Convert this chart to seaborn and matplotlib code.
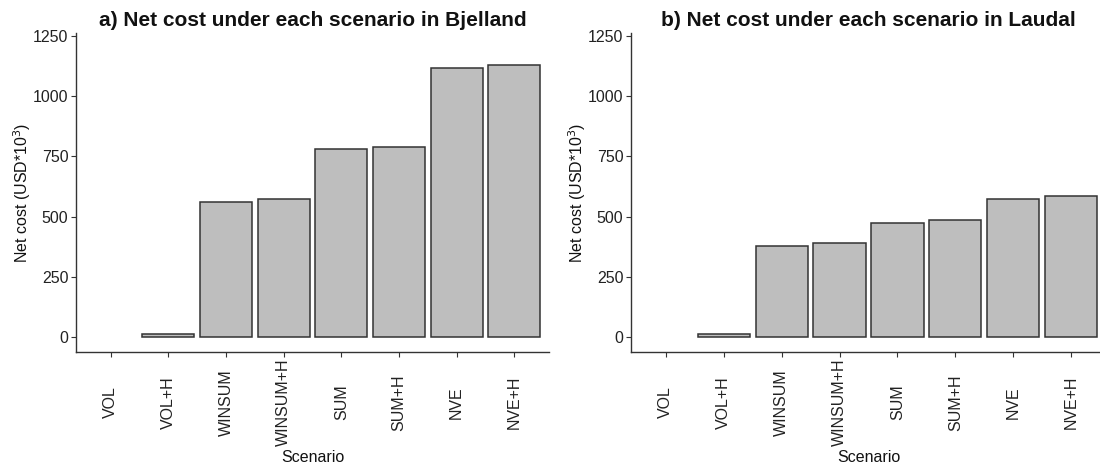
import numpy as np
import pandas as pd
import matplotlib
matplotlib.use("Agg")
import matplotlib.pyplot as plt
import seaborn as sns

# Scenario order and net cost (USD x 10^3) for each site
scenarios = ["VOL", "VOL+H", "WINSUM", "WINSUM+H", "SUM", "SUM+H", "NVE", "NVE+H"]
cost_bjelland = [0, 12, 561, 571, 779, 789, 1119, 1131]
cost_laudal = [0, 12, 377, 392, 474, 486, 571, 586]
titles = ["a) Net cost under each scenario in Bjelland",
          "b) Net cost under each scenario in Laudal"]
y_ticks = [0, 250, 500, 750, 1000, 1250]

sns.set_theme(style="ticks")
plt.rcParams["font.family"] = ["Liberation Sans", "DejaVu Sans"]

fig = plt.figure(figsize=(11, 4.68), dpi=100)
axes_pos = [
    [76 / 1100, 116.3 / 468, 473 / 1100, 318.4 / 468],
    [631 / 1100, 116.3 / 468, 475 / 1100, 318.4 / 468],
]

for pos, values, title in zip(axes_pos, [cost_bjelland, cost_laudal], titles):
    ax = fig.add_axes(pos)
    df = pd.DataFrame({"Scenario": scenarios, "cost": values})
    sns.barplot(data=df, x="Scenario", y="cost", order=scenarios,
                color="#BEBEBE", saturation=1, edgecolor="#333333",
                linewidth=1.1, width=0.9, ax=ax)
    # zero-valued scenarios have no bar at all
    for p in ax.patches:
        if p.get_height() == 0:
            p.set_visible(False)
    ax.set_xlim(-0.6, len(scenarios) - 0.4)
    ax.set_ylim(-62, 1262)
    ax.set_yticks(y_ticks)
    ax.set_yticklabels([str(t) for t in y_ticks])
    ax.tick_params(axis="both", length=3.5, width=0.8, color="#333333",
                   labelsize=11.5, labelcolor="#222222", pad=2)
    # vertical scenario names, centred on a common line below the axis
    ax.tick_params(axis="x", pad=33)
    for lab in ax.get_xticklabels():
        lab.set_rotation(90)
        lab.set_verticalalignment("center")
        lab.set_horizontalalignment("center")
    for s in ["top", "right"]:
        ax.spines[s].set_visible(False)
    for s in ["left", "bottom"]:
        ax.spines[s].set_color("#333333")
        ax.spines[s].set_linewidth(1.0)
    ax.set_xlabel("Scenario", fontsize=11.5, color="#111111", labelpad=3)
    ax.set_ylabel("Net cost (USD*10$^3$)", fontsize=11.5, color="#111111",
                  labelpad=0)
    ax.set_title(title, fontsize=15, fontweight="bold", color="#111111", pad=5)

fig.savefig("out.png", dpi=100, facecolor="white")
